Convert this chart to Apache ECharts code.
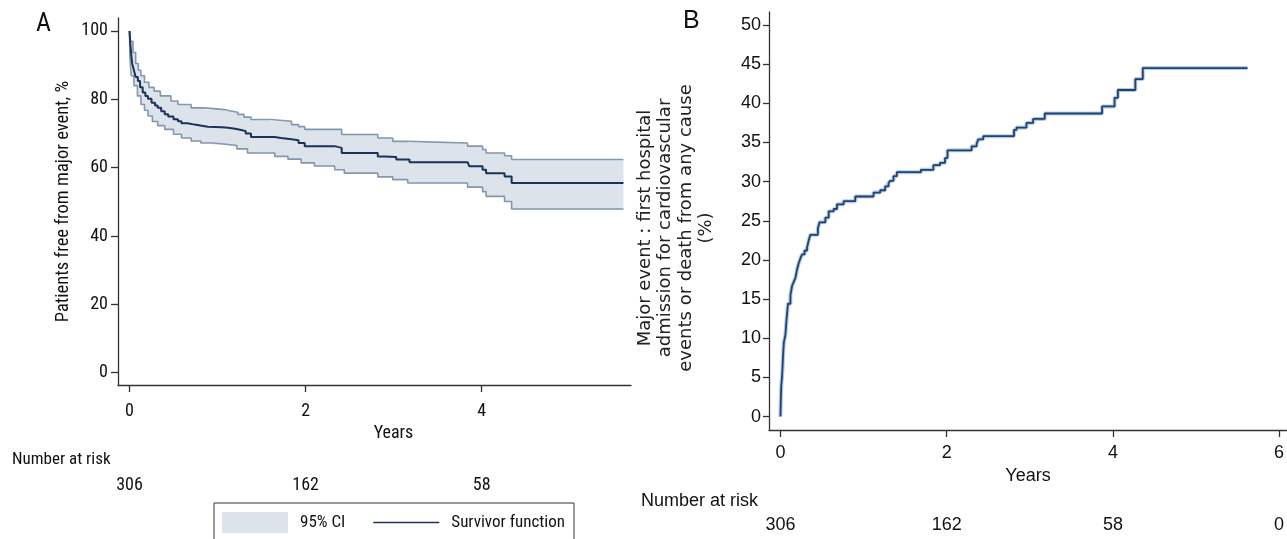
<!DOCTYPE html>
<html><head><meta charset="utf-8">
<script src="https://cdn.jsdelivr.net/npm/echarts@6/dist/echarts.min.js"></script>
<style>html,body{margin:0;padding:0;background:#fff}#c{width:1287px;height:539px}</style>
</head><body><div id="c"></div>
<script>
// ---- Panel A: Kaplan-Meier survivor function with 95% CI ----
const survival = [[0,100],[0.01,96],[0.02,93],[0.03,90.5],[0.05,88.5],[0.07,86.5],[0.095,85.4],[0.12,83.5],[0.15,82],[0.18,81],[0.21,80.2],[0.25,79],[0.29,78.2],[0.32,77.5],[0.36,76.5],[0.40,75.6],[0.44,75],[0.50,74.2],[0.55,73.6],[0.59,73],[0.66,72.6],[0.74,72.3],[0.82,72],[0.89,71.8],[1.05,71.7],[1.12,71.4],[1.20,71],[1.27,70.7],[1.32,70],[1.38,69],[1.65,68.7],[1.72,68.3],[1.84,68],[1.92,67.2],[1.99,66.3],[2.33,65.8],[2.41,64.3],[2.82,63.3],[2.90,63.1],[3.03,62.4],[3.18,61.6],[3.84,61.4],[3.86,60.4],[4.01,59.4],[4.05,58.4],[4.26,57.4],[4.34,55.5],[5.61,55.5]];
const upperCI = [[0,100],[0.01,97],[0.04,93.7],[0.07,90.5],[0.10,88.5],[0.13,86.9],[0.17,85],[0.22,83.5],[0.28,82.4],[0.35,81],[0.47,79.5],[0.55,78.5],[0.70,77.5],[0.85,77],[1.08,76.6],[1.15,76.2],[1.23,75.6],[1.30,74.8],[1.38,74.1],[1.60,73.6],[1.84,72.6],[1.92,72],[1.99,71.2],[2.41,69.7],[2.82,68.7],[2.99,67.7],[3.16,67.2],[3.84,66.3],[4.01,65.3],[4.05,64.3],[4.26,63.5],[4.34,62.4],[5.61,62.4]];
const lowerCI = [[0,100],[0.005,92],[0.02,86.9],[0.05,84],[0.09,81],[0.13,78.5],[0.17,76.8],[0.21,75.1],[0.26,73.5],[0.32,72.3],[0.40,71.2],[0.50,69.8],[0.59,68.7],[0.70,67.8],[0.81,67.2],[0.95,66.8],[1.12,66.5],[1.22,65.5],[1.34,64.3],[1.65,63.3],[1.80,62.5],[1.95,61.4],[2.10,60.5],[2.33,59.4],[2.44,58.4],[2.82,57.3],[2.99,56.5],[3.16,55.5],[3.84,54.3],[4.01,53],[4.05,51.6],[4.26,50.1],[4.34,47.9],[5.61,47.9]];
const xTicksA = [0,2,4];
const yTicksA = [0,20,40,60,80,100];
const riskA = [306,162,58];

// ---- Panel B: cumulative incidence of major event (%) ----
const incidence = [[0,0],[0.005,2.5],[0.01,4],[0.02,5.2],[0.03,7.5],[0.04,9.4],[0.06,10.5],[0.07,12],[0.09,14.4],[0.12,15.5],[0.14,16.7],[0.16,17.2],[0.18,17.7],[0.20,18.8],[0.22,19.6],[0.24,20.2],[0.26,20.7],[0.29,21.2],[0.32,21.6],[0.34,22.5],[0.36,23.2],[0.45,24.0],[0.47,24.8],[0.54,25.4],[0.58,26.2],[0.64,26.5],[0.68,27.1],[0.76,27.5],[0.90,28.1],[1.12,28.6],[1.20,28.9],[1.26,29.4],[1.30,29.8],[1.32,30.1],[1.36,30.7],[1.40,31.2],[1.69,31.5],[1.84,32.1],[1.92,32.4],[1.98,33.0],[2.01,34.0],[2.30,34.5],[2.36,34.8],[2.38,35.4],[2.44,35.8],[2.81,36.6],[2.84,36.9],[2.96,37.5],[3.04,38.0],[3.18,38.7],[3.87,39.6],[4.02,40.7],[4.06,41.7],[4.27,43.1],[4.36,44.5],[5.62,44.5]];
const xTicksB = [0,2,4,6];
const yTicksB = [0,5,10,15,20,25,30,35,40,45,50];
const riskB = [306,162,58,0];

const NARROW = "'Liberation Sans Narrow','Arial Narrow','Roboto Condensed','Liberation Sans',sans-serif";
const HELV = "'Liberation Sans',Arial,sans-serif";
const AX = '#333';
const TXT = '#111';
const MAIN = '#1c3257';

function stepPoints(arr, api){
  const pts = [];
  for (let i = 0; i < arr.length; i++){
    pts.push(api.coord(arr[i]));
    if (i < arr.length - 1) pts.push(api.coord([arr[i+1][0], arr[i][1]]));
  }
  return pts;
}
function bandItem(params, api){
  const up = stepPoints(upperCI, api);
  const lo = stepPoints(lowerCI, api).reverse();
  return {type:'polygon', shape:{points: up.concat(lo)}, style:{fill:'#dce3ea'}};
}

const chart = echarts.init(document.getElementById('c'), null, {renderer:'canvas'});
chart.setOption({
  animation:false,
  backgroundColor:'#fff',
  grid:[
    {left:118, top:18, right:656, bottom:154, outerBoundsMode:'none', containLabel:false},
    {left:769, top:12, right:0, bottom:109, outerBoundsMode:'none', containLabel:false}
  ],
  xAxis:[
    {gridIndex:0, type:'value', min:-0.1306, max:5.696,
     name:'Years', nameLocation:'middle', nameGap:39,
     nameTextStyle:{fontFamily:NARROW, fontSize:18, color:TXT, padding:[0,0,0,38]},
     axisLine:{show:true, onZero:false, lineStyle:{color:AX, width:1.3}},
     axisTick:{show:true, length:7, customValues:xTicksA, lineStyle:{color:AX, width:1.3}},
     axisLabel:{customValues:xTicksA, margin:17, fontFamily:NARROW, fontSize:18, color:TXT},
     splitLine:{show:false}},
    {gridIndex:0, type:'value', min:-0.1306, max:5.696, position:'bottom',
     axisLine:{show:false}, axisTick:{show:false}, splitLine:{show:false},
     axisLabel:{customValues:xTicksA, margin:91, fontFamily:NARROW, fontSize:18, color:TXT,
       formatter:function(v){ return String(riskA[xTicksA.indexOf(v)]); }}},
    {gridIndex:1, type:'value', min:-0.138, max:6.095,
     name:'Years', nameLocation:'middle', nameGap:37,
     nameTextStyle:{fontFamily:HELV, fontSize:18, color:TXT},
     axisLine:{show:true, onZero:false, lineStyle:{color:AX, width:1.3}},
     axisTick:{show:true, length:7, customValues:xTicksB, lineStyle:{color:AX, width:1.3}},
     axisLabel:{customValues:xTicksB, margin:14, fontFamily:HELV, fontSize:18, color:TXT},
     splitLine:{show:false}},
    {gridIndex:1, type:'value', min:-0.138, max:6.095, position:'bottom',
     axisLine:{show:false}, axisTick:{show:false}, splitLine:{show:false},
     axisLabel:{customValues:xTicksB, margin:86, fontFamily:HELV, fontSize:18, color:TXT,
       formatter:function(v){ return String(riskB[xTicksB.indexOf(v)]); }}}
  ],
  yAxis:[
    {gridIndex:0, type:'value', min:-3.6, max:103.8,
     name:'Patients free from major event, %', nameLocation:'middle', nameRotate:90, nameGap:45,
     nameTextStyle:{fontFamily:NARROW, fontSize:18.5, color:TXT},
     axisLine:{show:true, onZero:false, lineStyle:{color:AX, width:1.3}},
     axisTick:{show:true, length:7, customValues:yTicksA, lineStyle:{color:AX, width:1.3}},
     axisLabel:{customValues:yTicksA, margin:10, fontFamily:NARROW, fontSize:18, color:TXT},
     splitLine:{show:false}},
    {gridIndex:1, type:'value', min:-1.72, max:51.66,
     name:'Major event : first hospital\nadmission for cardiovascular\nevents or death from any cause\n(%)',
     nameLocation:'middle', nameRotate:90, nameGap:52,
     nameTextStyle:{fontFamily:"'DejaVu Sans',Verdana,sans-serif", fontSize:18, lineHeight:20.5, color:'#222', align:'center', padding:[0,14,0,0]},
     axisLine:{show:true, onZero:false, lineStyle:{color:AX, width:1.3}},
     axisTick:{show:true, length:6, customValues:yTicksB, lineStyle:{color:AX, width:1.3}},
     axisLabel:{customValues:yTicksB, margin:8, fontFamily:HELV, fontSize:18, color:TXT},
     splitLine:{show:false}}
  ],
  legend:{
    left:214, top:503, padding:[9,9,20,8], itemGap:28, itemWidth:66, itemHeight:21,
    borderColor:'#333', borderWidth:1, selectedMode:false,
    textStyle:{fontFamily:NARROW, fontSize:17, color:TXT, padding:[0,0,0,7]},
    data:[
      {name:'95% CI', icon:'rect', itemStyle:{color:'#dce3ea'}},
      {name:'Survivor function', icon:'path://M0,0 M66,21 M0,9.7 L66,9.7 L66,11.3 L0,11.3 Z', itemStyle:{color:MAIN}}
    ]
  },
  graphic:[
    {type:'text', left:36, top:11, style:{text:'A', fontFamily:NARROW, fontSize:26, fill:TXT}},
    {type:'text', left:683, top:9, style:{text:'B', fontFamily:HELV, fontSize:25, fill:TXT}},
    {type:'text', left:12, top:451, style:{text:'Number at risk', fontFamily:NARROW, fontSize:17, fill:TXT}},
    {type:'text', left:641, top:492, style:{text:'Number at risk', fontFamily:HELV, fontSize:18, fill:TXT}}
  ],
  series:[
    {name:'95% CI', type:'custom', xAxisIndex:0, yAxisIndex:0, renderItem:bandItem,
     data:[[0,100]], itemStyle:{color:'#dce3ea'}, z:1, silent:true},
    {name:'Upper CI', type:'line', xAxisIndex:0, yAxisIndex:0, data:upperCI, step:'end',
     symbol:'none', lineStyle:{color:'#8397ad', width:1.6}, z:2},
    {name:'Lower CI', type:'line', xAxisIndex:0, yAxisIndex:0, data:lowerCI, step:'end',
     symbol:'none', lineStyle:{color:'#8397ad', width:1.6}, z:2},
    {name:'Survivor function', type:'line', xAxisIndex:0, yAxisIndex:0, data:survival, step:'end',
     symbol:'none', itemStyle:{color:MAIN}, lineStyle:{color:MAIN, width:2}, z:3},
    {name:'Incidence halo', type:'line', xAxisIndex:2, yAxisIndex:1, data:incidence, step:'end',
     symbol:'none', lineStyle:{color:'rgba(95,135,185,0.45)', width:4}, z:2},
    {name:'Cumulative incidence', type:'line', xAxisIndex:2, yAxisIndex:1, data:incidence, step:'end',
     symbol:'none', lineStyle:{color:'#1d4477', width:1.8}, z:3}
  ]
});
</script>
</body></html>
